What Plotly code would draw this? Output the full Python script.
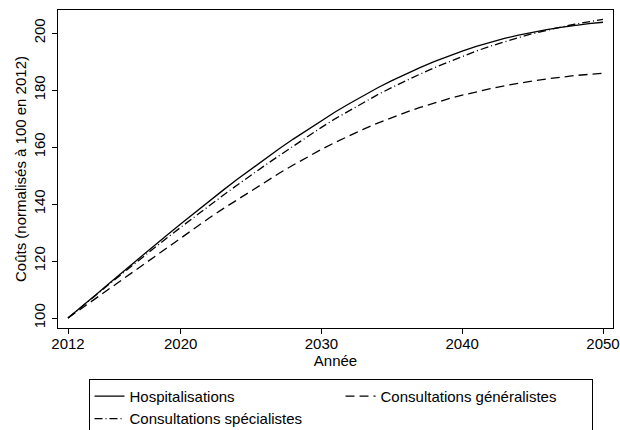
import plotly.graph_objects as go

years = list(range(2012, 2051))

hospitalisations = [100, 104, 108.3, 112.5, 116.7, 120.8, 124.9, 129, 133, 137,
                    140.9, 144.8, 148.6, 152.3, 155.9, 159.4, 162.8, 166.1, 169.3, 172.4,
                    175.3, 178.1, 180.8, 183.3, 185.7, 187.9, 190, 191.9, 193.7, 195.3,
                    196.8, 198.1, 199.3, 200.3, 201.2, 202, 202.7, 203.3, 203.8]

generalistes = [100, 103.5, 107, 110.5, 114, 117.5, 121, 124.6, 128.2, 131.6,
                135, 138.3, 141.5, 144.7, 147.8, 150.8, 153.7, 156.5, 159.2, 161.7,
                164.1, 166.3, 168.4, 170.4, 172.2, 173.9, 175.5, 176.9, 178.2, 179.4,
                180.5, 181.5, 182.4, 183.2, 183.9, 184.6, 185.1, 185.5, 185.9]

specialistes = [100, 103.9, 108.1, 112.2, 116.2, 120.2, 124.1, 128, 131.8, 135.6,
                139.3, 143, 146.6, 150.2, 153.6, 157, 160.4, 163.7, 166.9, 170,
                172.9, 175.7, 178.4, 180.9, 183.3, 185.6, 187.8, 189.8, 191.9, 193.7,
                195.4, 197, 198.4, 199.8, 201, 202.1, 203.1, 204, 204.8]

y_ticks = [100, 120, 140, 160, 180, 200]
x_ticks = [2012, 2020, 2030, 2040, 2050]

FONT = "Liberation Sans, Arial, Helvetica, sans-serif"

fig = go.Figure()
fig.add_trace(go.Scatter(x=years, y=hospitalisations, mode="lines", name="Hospitalisations",
                         line=dict(color="black", width=1.3, dash="solid")))
fig.add_trace(go.Scatter(x=years, y=generalistes, mode="lines", name="Consultations généralistes",
                         line=dict(color="black", width=1.3, dash="9px,5px")))
fig.add_trace(go.Scatter(x=years, y=specialistes, mode="lines", name="Consultations spécialistes",
                         line=dict(color="black", width=1.3, dash="8px,3px,1px,3px")))

fig.update_layout(
    width=620, height=430,
    margin=dict(l=58, r=7, t=10, b=102, autoexpand=False),
    paper_bgcolor="white", plot_bgcolor="white",
    font=dict(family=FONT, size=15, color="black"),
    showlegend=True,
    legend=dict(
        orientation="h", x=0.055, xanchor="left", y=-0.160, yanchor="top",
        bordercolor="black", borderwidth=1, bgcolor="white",
        entrywidth=206, entrywidthmode="pixels",
        font=dict(family=FONT, size=15, color="black"),
        traceorder="normal",
    ),
    xaxis=dict(
        range=[2011.29, 2050.71], tickvals=x_ticks, ticktext=[str(v) for v in x_ticks],
        showgrid=False, zeroline=False, showline=True, linecolor="black", linewidth=1,
        mirror=True, ticks="outside", ticklen=5, tickcolor="black", automargin=False,
        ticklabelstandoff=-3,
        title=dict(text="Année", standoff=0, font=dict(size=15)),
        tickfont=dict(size=15),
    ),
    yaxis=dict(
        range=[96.5, 208.1], tickvals=y_ticks, ticktext=[str(v) for v in y_ticks],
        showgrid=False, zeroline=False, showline=True, linecolor="black", linewidth=1,
        mirror=True, ticks="outside", ticklen=5, tickcolor="black", tickangle=-90,
        automargin=False, ticklabelstandoff=1,
        title=dict(text="Coûts (normalisés à 100 en 2012)", standoff=0, font=dict(size=15)),
        tickfont=dict(size=15),
    ),
)

fig.write_html("out.html", config={"displayModeBar": False},
               post_script="document.body.style.margin='0px';")
